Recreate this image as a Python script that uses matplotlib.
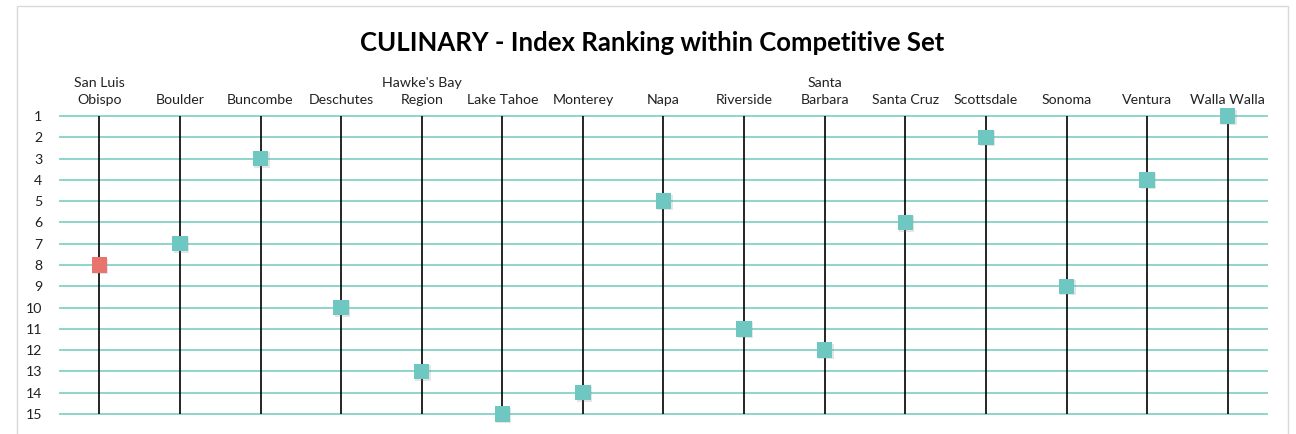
import matplotlib
matplotlib.use("Agg")
import matplotlib.pyplot as plt
import matplotlib.patheffects as pe
from matplotlib.patches import Rectangle

categories = ["San Luis\nObispo", "Boulder", "Buncombe", "Deschutes", "Hawke's Bay\nRegion",
              "Lake Tahoe", "Monterey", "Napa", "Riverside", "Santa\nBarbara",
              "Santa Cruz", "Scottsdale", "Sonoma", "Ventura", "Walla Walla"]
ranks = [8, 7, 3, 10, 13, 15, 14, 5, 11, 12, 6, 2, 9, 4, 1]
highlight = ["San Luis\nObispo"]
rank_ticks = list(range(1, 16))

TEAL = "#6EC8C1"
RED = "#E8746D"
GRID = "#7ACDC5"

plt.rcParams['font.family'] = ['Lato', 'DejaVu Sans']

fig = plt.figure(figsize=(12.96, 4.34), dpi=100)
fig.patches.append(Rectangle((17/1296, -0.1), (1288-17)/1296, 1.1 - 6/434,
                             transform=fig.transFigure, fill=False,
                             edgecolor="#D9D9D9", linewidth=1.0))

ax = fig.add_axes([59/1296, 20/434, 1209/1296, 298/434])
n = len(categories)
xs = list(range(n))
ax.set_xlim(-0.5, n - 0.5)
ax.set_ylim(15, 1)

ax.hlines(rank_ticks, -0.5, n - 0.5, color=GRID, linewidth=1.2, zorder=1, clip_on=False)
ax.vlines(xs, 1, 15, color="black", linewidth=1.2, zorder=2, clip_on=False)

colors = [RED if c in highlight else TEAL for c in categories]
sc = ax.scatter(xs, ranks, marker="s", s=15.5**2 * 0.5184, c=colors, zorder=3,
                linewidths=0, clip_on=False)
sc.set_path_effects([pe.SimplePatchShadow(offset=(1.0, -1.0), shadow_rgbFace=(0.5, 0.5, 0.5),
                                          alpha=0.2), pe.Normal()])

ax.xaxis.tick_top()
ax.set_xticks(xs)
ax.set_xticklabels(categories, fontsize=10.2, color="#222222", linespacing=1.55)
ax.set_yticks(rank_ticks)
ax.set_yticklabels([str(r) for r in rank_ticks], fontsize=10.2, color="#222222")
ax.tick_params(axis="x", length=0, pad=7)
ax.tick_params(axis="y", length=0, pad=12)
for s in ax.spines.values():
    s.set_visible(False)

fig.text(652/1296, 1 - 43/434, "CULINARY - Index Ranking within Competitive Set",
         ha="center", va="center", fontsize=18.5, fontweight="bold", color="black")

fig.savefig("out.png", dpi=100)
